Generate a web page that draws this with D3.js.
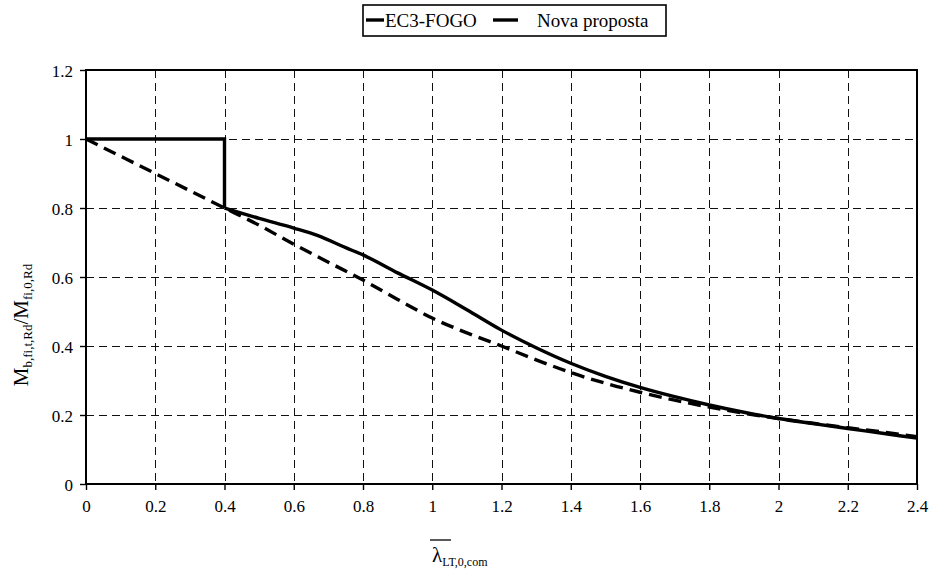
<!DOCTYPE html>
<html>
<head>
<meta charset="utf-8">
<script src="https://cdn.jsdelivr.net/npm/d3@7"></script>
<style>
  html, body { margin: 0; padding: 0; background: #fff; }
  svg { display: block; }
  text { font-family: "Liberation Serif", "DejaVu Serif", serif; fill: #000; }
</style>
</head>
<body>
<svg id="chart" width="932" height="573"></svg>
<script>
// Slenderness values (x) and reduction factors for each rule
const lambdaEC3 = [0, 0.4, 0.4, 0.5, 0.6, 0.67, 0.75, 0.8, 0.9, 1.0, 1.1, 1.2, 1.3, 1.4, 1.5, 1.6, 1.7, 1.8, 1.9, 2.0, 2.1, 2.2, 2.3, 2.4];
const valuesEC3  = [1, 1, 0.80, 0.77, 0.742, 0.72, 0.685, 0.664, 0.612, 0.562, 0.505, 0.446, 0.395, 0.35, 0.312, 0.28, 0.253, 0.229, 0.208, 0.19, 0.175, 0.161, 0.147, 0.133];

const lambdaNova = [0, 0.4, 0.5, 0.6, 0.7, 0.8, 0.9, 1.0, 1.1, 1.2, 1.3, 1.4, 1.5, 1.6, 1.7, 1.8, 1.9, 2.0, 2.1, 2.2, 2.3, 2.4];
const valuesNova = [1, 0.80, 0.75, 0.695, 0.643, 0.591, 0.535, 0.481, 0.438, 0.40, 0.36, 0.323, 0.292, 0.266, 0.243, 0.223, 0.205, 0.19, 0.176, 0.163, 0.151, 0.137];

const xTicks = [0, 0.2, 0.4, 0.6, 0.8, 1, 1.2, 1.4, 1.6, 1.8, 2, 2.2, 2.4];
const yTicks = [0, 0.2, 0.4, 0.6, 0.8, 1, 1.2];
const seriesNames = ["EC3-FOGO", "Nova proposta"];

const svg = d3.select("#chart");
const plot = { left: 86, right: 917, top: 70, bottom: 484 };

const x = d3.scaleLinear().domain([0, 2.4]).range([plot.left, plot.right]);
const y = d3.scaleLinear().domain([0, 1.2]).range([plot.bottom, plot.top]);

// Grid lines
const grid = svg.append("g").attr("shape-rendering", "crispEdges");
grid.selectAll("line.v").data(xTicks.slice(1, -1)).join("line")
  .attr("x1", d => Math.round(x(d)) + 0.5).attr("x2", d => Math.round(x(d)) + 0.5)
  .attr("y1", plot.top).attr("y2", plot.bottom)
  .attr("stroke", "#111").attr("stroke-width", 1).attr("stroke-dasharray", "8,5");
grid.selectAll("line.h").data(yTicks.slice(1, -1)).join("line")
  .attr("x1", plot.left).attr("x2", plot.right)
  .attr("y1", d => Math.round(y(d)) + 0.5).attr("y2", d => Math.round(y(d)) + 0.5)
  .attr("stroke", "#111").attr("stroke-width", 1).attr("stroke-dasharray", "8,5");

// Plot frame
svg.append("rect")
  .attr("x", plot.left).attr("y", plot.top)
  .attr("width", plot.right - plot.left).attr("height", plot.bottom - plot.top)
  .attr("fill", "none").attr("stroke", "#000").attr("stroke-width", 2);

// Axes
const xAxis = svg.append("g").attr("transform", `translate(0,${plot.bottom})`)
  .call(d3.axisBottom(x).tickValues(xTicks).tickFormat(d3.format("")).tickSize(6).tickPadding(10));
const yAxis = svg.append("g").attr("transform", `translate(${plot.left},0)`)
  .call(d3.axisLeft(y).tickValues(yTicks).tickFormat(d3.format("")).tickSize(6).tickPadding(7));
[xAxis, yAxis].forEach(a => {
  a.select(".domain").remove();
  a.selectAll(".tick line").attr("stroke", "#000").attr("stroke-width", 1.4);
  a.selectAll(".tick text").attr("font-size", 17).attr("font-family", "Liberation Serif, serif").attr("fill", "#000");
});
yAxis.selectAll(".tick text").attr("dy", "0.36em");

// Curves
const line = d3.line().x(d => x(d[0])).y(d => y(d[1])).curve(d3.curveMonotoneX);
const lineLinear = d3.line().x(d => x(d[0])).y(d => y(d[1]));

const ec3 = lambdaEC3.map((l, i) => [l, valuesEC3[i]]);
// flat part and vertical drop drawn straight, the remaining curve smoothed
svg.append("path").datum(ec3.slice(0, 3))
  .attr("d", lineLinear).attr("fill", "none").attr("stroke", "#000")
  .attr("stroke-width", 3.4).attr("stroke-linejoin", "miter");
svg.append("path").datum(ec3.slice(2))
  .attr("d", line).attr("fill", "none").attr("stroke", "#000")
  .attr("stroke-width", 3.4);

const nova = lambdaNova.map((l, i) => [l, valuesNova[i]]);
svg.append("path").datum(nova)
  .attr("d", line).attr("fill", "none").attr("stroke", "#000")
  .attr("stroke-width", 3.4).attr("stroke-dasharray", "13,7");

// Legend
const lg = svg.append("g");
lg.append("rect").attr("x", 363).attr("y", 5).attr("width", 303).attr("height", 31)
  .attr("fill", "#fff").attr("stroke", "#000").attr("stroke-width", 1.6);
lg.append("line").attr("x1", 366).attr("x2", 384).attr("y1", 20).attr("y2", 20)
  .attr("stroke", "#000").attr("stroke-width", 3.4);
lg.append("text").attr("x", 385).attr("y", 27).attr("font-size", 19).text(seriesNames[0]);
lg.append("line").attr("x1", 493).attr("x2", 518).attr("y1", 20).attr("y2", 20)
  .attr("stroke", "#000").attr("stroke-width", 3.4);
lg.append("text").attr("x", 537).attr("y", 27).attr("font-size", 19).text(seriesNames[1]);

// Y axis title
const yt = svg.append("text")
  .attr("transform", "translate(28,325) rotate(-90)")
  .attr("text-anchor", "middle").attr("font-size", 21);
yt.append("tspan").text("M");
yt.append("tspan").attr("font-size", 13).attr("dy", 4).text("b,fi,t,Rd");
yt.append("tspan").attr("dy", -4).text("/M");
yt.append("tspan").attr("font-size", 13).attr("dy", 4).text("fi,0,Rd");

// X axis title: overlined lambda with subscript
const xt = svg.append("text").attr("x", 432).attr("y", 562).attr("font-size", 21);
xt.append("tspan").text("λ");
xt.append("tspan").attr("font-size", 12).attr("dy", 4).text("LT,0,com");
svg.append("line").attr("x1", 430).attr("x2", 451).attr("y1", 540).attr("y2", 540)
  .attr("stroke", "#000").attr("stroke-width", 1.3);
</script>
</body>
</html>
